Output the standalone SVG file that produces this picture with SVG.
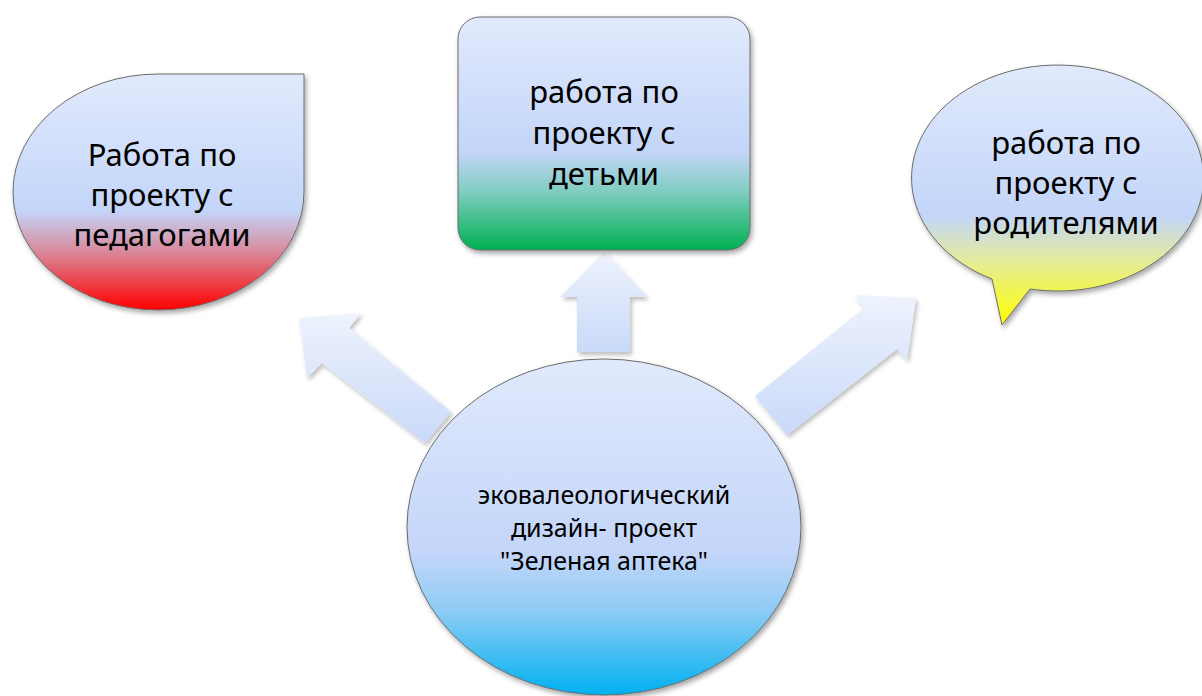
<svg xmlns="http://www.w3.org/2000/svg" width="1202" height="696" viewBox="0 0 1202 696">
<defs>
<linearGradient id="gRed" x1="0" y1="0" x2="0" y2="1">
<stop offset="0" stop-color="#e1eafc"/><stop offset="0.58" stop-color="#c3d5f9"/><stop offset="0.75" stop-color="#d88a9c"/><stop offset="1" stop-color="#ff0000"/>
</linearGradient>
<linearGradient id="gGreen" x1="0" y1="0" x2="0" y2="1">
<stop offset="0" stop-color="#e1eafc"/><stop offset="0.58" stop-color="#c3d5f9"/><stop offset="0.75" stop-color="#7fcdc0"/><stop offset="1" stop-color="#00b050"/>
</linearGradient>
<linearGradient id="gYellow" x1="0" y1="0" x2="0" y2="1">
<stop offset="0" stop-color="#e1eafc"/><stop offset="0.58" stop-color="#c3d5f9"/><stop offset="0.75" stop-color="#e3eb9c"/><stop offset="1" stop-color="#ffff00"/>
</linearGradient>
<linearGradient id="gBlue" x1="0" y1="0" x2="0" y2="1">
<stop offset="0" stop-color="#e1eafc"/><stop offset="0.58" stop-color="#c3d5f9"/><stop offset="0.75" stop-color="#8dccf5"/><stop offset="1" stop-color="#00b0f0"/>
</linearGradient>
<linearGradient id="gArrow" x1="0" y1="0" x2="0" y2="1">
<stop offset="0" stop-color="#eef3fd"/><stop offset="1" stop-color="#c9d9f8"/>
</linearGradient>
<filter id="sh" x="-20%" y="-20%" width="140%" height="140%">
<feDropShadow dx="2" dy="3" stdDeviation="2.5" flood-color="#000" flood-opacity="0.35"/>
</filter>
<filter id="shA" x="-20%" y="-20%" width="140%" height="140%">
<feDropShadow dx="2" dy="3" stdDeviation="2" flood-color="#000" flood-opacity="0.25"/>
</filter>
</defs>
<style>
.shape{stroke:#6b6b6b;stroke-width:1;filter:url(#sh)}
.arrow{fill:url(#gArrow);stroke:none;filter:url(#shA)}
.big{font-family:"Noto Sans","Open Sans","DejaVu Sans",sans-serif;font-size:31px;fill:#000;text-anchor:middle}
.small{font-family:"Noto Sans","Open Sans","DejaVu Sans",sans-serif;font-size:25px;fill:#000;text-anchor:middle}
</style>
<rect width="1202" height="696" fill="#ffffff"/>
<g id="connectors">
<polygon class="arrow" points="299,318 361,313 349,328 451,412 425,443 322,363 307,378"/>
<polygon class="arrow" points="604,252 647,297 630,297 630,352 577,352 577,297 560,297"/>
<polygon class="arrow" points="916,298 907,360 897,349 787,435 755,396 864,308 855,295"/>
</g>
<g id="node-teachers">
<path class="shape" fill="url(#gRed)" d="M13,192 A145,118 0 0 1 158,74 L304,74 L304,192 A146,118 0 0 1 158,310 A145,118 0 0 1 13,192 Z"/>
<text class="big"><tspan x="162" y="166">Работа по</tspan><tspan x="162" y="206">проекту с</tspan><tspan x="162" y="246">педагогами</tspan></text>
</g>
<g id="node-children">
<rect class="shape" fill="url(#gGreen)" x="458" y="17" width="292" height="233" rx="22" ry="22"/>
<text class="big"><tspan x="604" y="103">работа по</tspan><tspan x="604" y="144">проекту с</tspan><tspan x="604" y="185">детьми</tspan></text>
</g>
<g id="node-parents">
<path class="shape" fill="url(#gYellow)" d="M992,279 A146,113 0 1 1 1030,289 L1002,325 Z"/>
<text class="big"><tspan x="1066" y="154">работа по</tspan><tspan x="1066" y="194">проекту с</tspan><tspan x="1066" y="234">родителями</tspan></text>
</g>
<g id="node-center">
<ellipse class="shape" fill="url(#gBlue)" cx="604" cy="527" rx="197" ry="168"/>
<text class="small"><tspan x="604" y="504">эковалеологический</tspan><tspan x="604" y="537">дизайн- проект</tspan><tspan x="604" y="570">"Зеленая аптека"</tspan></text>
</g>
</svg>
